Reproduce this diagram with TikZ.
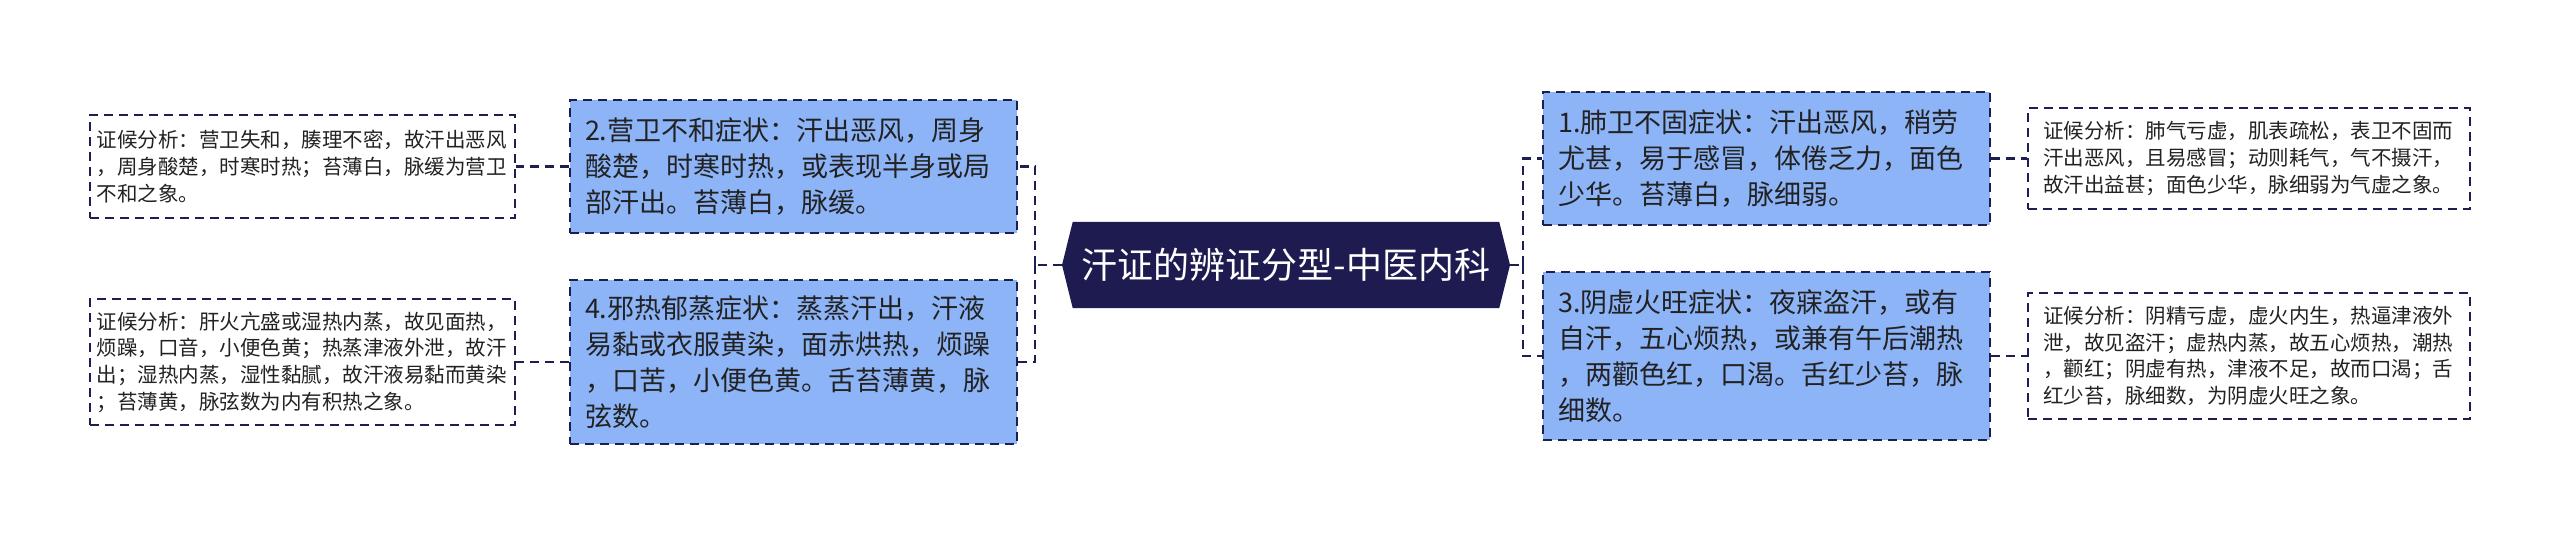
\documentclass[tikz,border=0pt]{standalone}
\usepackage{fontspec}
\setmainfont{Noto Sans CJK SC}
\usetikzlibrary{shapes.symbols}
\definecolor{navy}{HTML}{1E1B50}
\definecolor{boxblue}{HTML}{8DB4F7}
\definecolor{edge}{HTML}{1C2050}
\definecolor{ink}{HTML}{222222}
\begin{document}
\begin{tikzpicture}[x=1pt,y=-1pt,
  dashline/.style={draw=edge, line width=2.2pt, dash pattern=on 9pt off 6pt},
  conn/.style={dashline},
  mainbox/.style={dashline, fill=boxblue, inner xsep=15pt, inner ysep=0pt,
    text width=417pt, minimum width=447pt, align=left, text=ink,
    font=\fontsize{27}{36}\selectfont},
  notebox/.style={dashline, fill=white, inner ysep=0pt,
    text width=412pt, align=left, text=ink,
    font=\fontsize{20.5}{26.7}\selectfont},
  centre/.style={signal, signal to=west and east, signal pointer angle=152,
    fill=navy, text=white, inner sep=0pt, minimum width=448pt, minimum height=86pt,
    font=\fontsize{36}{42}\selectfont}
]
\useasboundingbox[fill=white] (0,0) rectangle (2560,540);

\node[centre] (c) at (1286,265) {汗证的辨证分型-中医内科};

\node[mainbox, minimum height=133pt] (b2) at (793.5,166.5)
  {2.营卫不和症状：汗出恶风，周身\\酸楚，时寒时热，或表现半身或局\\部汗出。苔薄白，脉缓。};
\node[mainbox, minimum height=164pt] (b4) at (793.5,362)
  {4.邪热郁蒸症状：蒸蒸汗出，汗液\\易黏或衣服黄染，面赤烘热，烦躁\\，口苦，小便色黄。舌苔薄黄，脉\\弦数。};
\node[mainbox, minimum height=133pt] (b1) at (1766.5,158.5)
  {1.肺卫不固症状：汗出恶风，稍劳\\尤甚，易于感冒，体倦乏力，面色\\少华。苔薄白，脉细弱。};
\node[mainbox, minimum height=168pt] (b3) at (1766.5,356)
  {3.阴虚火旺症状：夜寐盗汗，或有\\自汗，五心烦热，或兼有午后潮热\\，两颧色红，口渴。舌红少苔，脉\\细数。};

\node[notebox, inner xsep=6.5pt, minimum width=425pt, minimum height=103pt] (a2) at (302.5,166.5)
  {证候分析：营卫失和，腠理不密，故汗出恶风\\，周身酸楚，时寒时热；苔薄白，脉缓为营卫\\不和之象。};
\node[notebox, inner xsep=6.5pt, minimum width=425pt, minimum height=126pt] (a4) at (302.5,362)
  {证候分析：肝火亢盛或湿热内蒸，故见面热，\\烦躁，口音，小便色黄；热蒸津液外泄，故汗\\出；湿热内蒸，湿性黏腻，故汗液易黏而黄染\\；苔薄黄，脉弦数为内有积热之象。};
\node[notebox, inner xsep=15pt, minimum width=442pt, minimum height=101pt] (a1) at (2249,158.5)
  {证候分析：肺气亏虚，肌表疏松，表卫不固而\\汗出恶风，且易感冒；动则耗气，气不摄汗，\\故汗出益甚；面色少华，脉细弱为气虚之象。};
\node[notebox, inner xsep=15pt, minimum width=442pt, minimum height=126pt] (a3) at (2249,356)
  {证候分析：阴精亏虚，虚火内生，热逼津液外\\泄，故见盗汗；虚热内蒸，故五心烦热，潮热\\，颧红；阴虚有热，津液不足，故而口渴；舌\\红少苔，脉细数，为阴虚火旺之象。};

\coordinate (lj) at (1035,265);
\coordinate (rj) at (1523,265);
\draw[conn] (c.west) -- (lj);
\draw[conn] (lj) |- (b2.east);
\draw[conn] (lj) |- (b4.east);
\draw[conn] (c.east) -- (rj);
\draw[conn] (rj) |- (b1.west);
\draw[conn] (rj) |- (b3.west);
\draw[conn] (b2.west) -- (a2.east);
\draw[conn] (b4.west) -- (a4.east);
\draw[conn] (b1.east) -- (a1.west);
\draw[conn] (b3.east) -- (a3.west);
\end{tikzpicture}
\end{document}
